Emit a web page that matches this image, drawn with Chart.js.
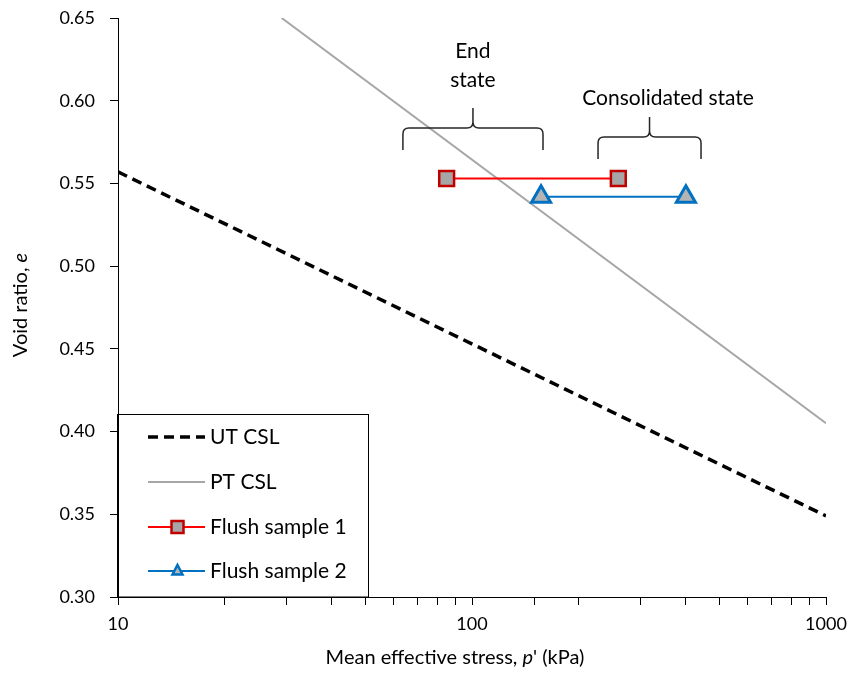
<!DOCTYPE html>
<html>
<head>
<meta charset="utf-8">
<script src="https://cdn.jsdelivr.net/npm/chart.js@4.4.1/dist/chart.umd.min.js"></script>
<style>
    body { margin: 0; background: #ffffff; }
</style>
</head>
<body>
<canvas id="cslChart" width="851" height="675"></canvas>
<script>
// critical state lines: mean effective stress p' (kPa) vs void ratio e
var utCslP = [10, 1000];
var utCslE = [0.557, 0.349];
var ptCslP = [29, 1000];
var ptCslE = [0.650, 0.405];

// flush samples: end state, consolidated state
var flush1P = [84.8, 259];
var flush1E = [0.553, 0.553];
var flush2P = [156.7, 402];
var flush2E = [0.542, 0.542];

var xTickLabels = [10, 100, 1000];
var yTicks = [0.30, 0.35, 0.40, 0.45, 0.50, 0.55, 0.60, 0.65];

var legendNames = ['UT CSL', 'PT CSL', 'Flush sample 1', 'Flush sample 2'];

// brace annotations (data units)
var braces = [
    { label: ['End', 'state'], from: 63.8, to: 158.7, e: 0.5835, textP: 100.6, textE: [0.630, 0.6125] },
    { label: ['Consolidated state'], from: 227, to: 443.6, e: 0.5781, textP: 358, textE: [0.6016] }
];

function toPoints(xs, ys) {
    return xs.map(function (x, i) { return { x: x, y: ys[i] }; });
}

var FONT = 'Lato, "Open Sans", sans-serif';

var bracePlugin = {
    id: 'braces',
    afterDatasetsDraw: function (chart) {
        var ctx = chart.ctx;
        var xs = chart.scales.x, ys = chart.scales.y;
        ctx.save();
        ctx.strokeStyle = '#262626';
        ctx.lineWidth = 1.5;
        ctx.fillStyle = '#000';
        ctx.font = '21px ' + FONT;
        ctx.textAlign = 'center';
        ctx.textBaseline = 'middle';
        braces.forEach(function (b) {
            var x1 = xs.getPixelForValue(b.from);
            var x2 = xs.getPixelForValue(b.to);
            var xc = (x1 + x2) / 2;
            var y = ys.getPixelForValue(b.e);
            var r = 6, leg = 22, tip = 20;
            ctx.beginPath();
            ctx.moveTo(x1, y + leg);
            ctx.lineTo(x1, y + r);
            ctx.quadraticCurveTo(x1, y, x1 + r, y);
            ctx.lineTo(xc - r, y);
            ctx.quadraticCurveTo(xc, y, xc, y - r);
            ctx.lineTo(xc, y - tip);
            ctx.moveTo(xc, y - r);
            ctx.quadraticCurveTo(xc, y, xc + r, y);
            ctx.lineTo(x2 - r, y);
            ctx.quadraticCurveTo(x2, y, x2, y + r);
            ctx.lineTo(x2, y + leg);
            ctx.stroke();
            b.label.forEach(function (t, i) {
                ctx.fillText(t, xs.getPixelForValue(b.textP), ys.getPixelForValue(b.textE[i]));
            });
        });
        ctx.restore();
    }
};

var legendBoxPlugin = {
    id: 'legendBox',
    afterDraw: function (chart) {
        var ctx = chart.ctx;
        var area = chart.chartArea;
        var left = area.left - 0.5, top = 414.5, right = 368.5, bottom = area.bottom;
        ctx.save();
        ctx.fillStyle = '#ffffff';
        ctx.fillRect(left, top, right - left, bottom - top);
        ctx.strokeStyle = '#000';
        ctx.lineWidth = 1;
        ctx.strokeRect(left, top, right - left, bottom - top);
        // thicker spine where the box sits on the axis
        ctx.beginPath();
        ctx.lineWidth = 2;
        ctx.moveTo(area.left, top);
        ctx.lineTo(area.left, bottom);
        ctx.stroke();

        var rowY = [437, 482, 527, 571];
        var x0 = 148, x1 = 205, xm = (x0 + x1) / 2 + 1;
        chart.data.datasets.forEach(function (ds, i) {
            var yy = rowY[i];
            ctx.beginPath();
            ctx.setLineDash(ds.borderDash || []);
            ctx.strokeStyle = ds.borderColor;
            ctx.lineWidth = ds.borderWidth;
            ctx.moveTo(x0, yy);
            ctx.lineTo(x1, yy);
            ctx.stroke();
            ctx.setLineDash([]);
            if (ds.pointStyle === 'rect') {
                ctx.fillStyle = ds.pointBackgroundColor;
                ctx.strokeStyle = ds.pointBorderColor;
                ctx.lineWidth = 2.5;
                ctx.fillRect(xm - 6, yy - 6, 12, 12);
                ctx.strokeRect(xm - 6, yy - 6, 12, 12);
            } else if (ds.pointStyle === 'triangle') {
                ctx.fillStyle = ds.pointBackgroundColor;
                ctx.strokeStyle = ds.pointBorderColor;
                ctx.lineWidth = 2.5;
                ctx.beginPath();
                ctx.moveTo(xm, yy - 6);
                ctx.lineTo(xm + 5, yy + 3.5);
                ctx.lineTo(xm - 5, yy + 3.5);
                ctx.closePath();
                ctx.fill();
                ctx.stroke();
            }
            ctx.fillStyle = '#000';
            ctx.font = '21px ' + FONT;
            ctx.textAlign = 'left';
            ctx.textBaseline = 'middle';
            ctx.fillText(legendNames[i], 210, yy);
        });
        ctx.restore();
    }
};

var axisTitlePlugin = {
    id: 'axisTitles',
    afterDraw: function (chart) {
        var ctx = chart.ctx;
        ctx.save();
        ctx.fillStyle = '#000';
        ctx.textBaseline = 'middle';
        ctx.textAlign = 'left';
        // x title with italic p
        var parts = [['Mean effective stress, ', ''], ["p", 'italic '], ["' (kPa)", '']];
        var total = 0;
        parts.forEach(function (p) { ctx.font = p[1] + '20px ' + FONT; total += ctx.measureText(p[0]).width; });
        var x = 455 - total / 2;
        parts.forEach(function (p) {
            ctx.font = p[1] + '20px ' + FONT;
            ctx.fillText(p[0], x, 658);
            x += ctx.measureText(p[0]).width;
        });
        // y title with italic e
        ctx.translate(21, 305);
        ctx.rotate(-Math.PI / 2);
        var yparts = [['Void ratio, ', ''], ['e', 'italic ']];
        total = 0;
        yparts.forEach(function (p) { ctx.font = p[1] + '20px ' + FONT; total += ctx.measureText(p[0]).width; });
        x = -total / 2;
        yparts.forEach(function (p) {
            ctx.font = p[1] + '20px ' + FONT;
            ctx.fillText(p[0], x, 0);
            x += ctx.measureText(p[0]).width;
        });
        ctx.restore();
    }
};

var ctx = document.getElementById('cslChart');
var cslChart = new Chart(ctx, {
    type: 'scatter',
    data: {
        datasets: [{
            label: 'UT CSL',
            data: toPoints(utCslP, utCslE),
            showLine: true,
            borderColor: '#000000',
            borderWidth: 3.5,
            borderDash: [10, 6],
            pointRadius: 0,
            order: 3
        }, {
            label: 'PT CSL',
            data: toPoints(ptCslP, ptCslE),
            showLine: true,
            borderColor: '#a6a6a6',
            borderWidth: 2,
            pointRadius: 0,
            order: 2
        }, {
            label: 'Flush sample 1',
            data: toPoints(flush1P, flush1E),
            showLine: true,
            borderColor: '#ff0000',
            borderWidth: 2,
            pointStyle: 'rect',
            pointRadius: 10.5,
            pointBorderWidth: 2.5,
            pointBackgroundColor: '#a6a6a6',
            pointBorderColor: '#c00000',
            order: 1
        }, {
            label: 'Flush sample 2',
            data: toPoints(flush2P, flush2E),
            showLine: true,
            borderColor: '#0070c0',
            borderWidth: 2,
            pointStyle: 'triangle',
            pointRadius: 11,
            pointBorderWidth: 3,
            pointBackgroundColor: '#b4b4b4',
            pointBorderColor: '#0070c0',
            order: 0
        }]
    },
    options: {
        responsive: false,
        animation: false,
        layout: {
            padding: { left: 0, top: 18, right: 25, bottom: 0 }
        },
        plugins: {
            legend: { display: false },
            tooltip: { enabled: false }
        },
        scales: {
            x: {
                type: 'logarithmic',
                min: 10,
                max: 1000,
                afterFit: function (scale) {
                    scale.height = 78;
                    scale.paddingLeft = 0;
                    scale.paddingRight = 0;
                },
                border: { color: '#000', width: 1 },
                grid: { drawOnChartArea: false, color: '#000', tickLength: 8 },
                ticks: {
                    autoSkip: false,
                    maxRotation: 0,
                    padding: 8,
                    color: '#000',
                    font: { family: FONT, size: 18 },
                    callback: function (value) {
                        return xTickLabels.indexOf(value) >= 0 ? String(value) : '';
                    }
                }
            },
            y: {
                min: 0.30,
                max: 0.65,
                afterFit: function (scale) {
                    scale.width = 118;
                    scale.paddingTop = 0;
                    scale.paddingBottom = 0;
                },
                afterBuildTicks: function (scale) {
                    scale.ticks = yTicks.map(function (v) { return { value: v }; });
                },
                border: { color: '#000', width: 1 },
                grid: { drawOnChartArea: false, color: '#000', tickLength: 8 },
                ticks: {
                    padding: 15,
                    color: '#000',
                    font: { family: FONT, size: 18 },
                    callback: function (value) { return value.toFixed(2); }
                }
            }
        }
    },
    plugins: [bracePlugin, legendBoxPlugin, axisTitlePlugin]
});
</script>
</body>
</html>
